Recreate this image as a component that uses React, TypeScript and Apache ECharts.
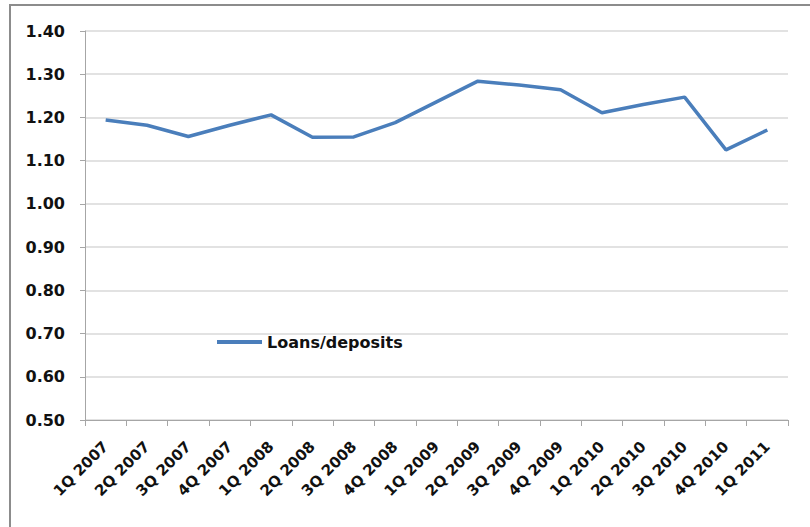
import React, { useEffect, useRef } from "react";
import * as echarts from "echarts";

const categories = [
  "1Q 2007", "2Q 2007", "3Q 2007", "4Q 2007",
  "1Q 2008", "2Q 2008", "3Q 2008", "4Q 2008",
  "1Q 2009", "2Q 2009", "3Q 2009", "4Q 2009",
  "1Q 2010", "2Q 2010", "3Q 2010", "4Q 2010",
  "1Q 2011",
];
const loansDeposits = [
  1.194, 1.182, 1.156, 1.182, 1.206, 1.154, 1.155, 1.188,
  1.236, 1.284, 1.275, 1.264, 1.211, 1.23, 1.247, 1.125, 1.171,
];
const seriesName = "Loans/deposits";

const FONT = "DejaVu Sans";

export default function App() {
  const ref = useRef<HTMLDivElement>(null);
  useEffect(() => {
    if (!ref.current) return;
    const chart = echarts.init(ref.current, undefined, { renderer: "svg" });
    chart.setOption({
      animation: false,
      backgroundColor: "#ffffff",
      graphic: [
        {
          type: "rect",
          shape: { x: 10, y: 5, width: 820, height: 540 },
          style: { fill: "none", stroke: "#8c8c8c", lineWidth: 2 },
          silent: true,
        },
      ],
      grid: { left: 85, right: 22, top: 31, bottom: 107 },
      legend: {
        left: 212,
        top: 329,
        icon: "rect",
        itemWidth: 45,
        itemHeight: 4,
        textStyle: { fontFamily: FONT, fontWeight: "bold", fontSize: 16, color: "#111" },
        data: [seriesName],
      },
      xAxis: {
        type: "category",
        data: categories,
        boundaryGap: true,
        axisLine: { lineStyle: { color: "#a6a6a6", width: 1 } },
        axisTick: { show: true, length: 6, lineStyle: { color: "#a6a6a6" } },
        axisLabel: {
          rotate: 45,
          interval: 0,
          margin: 24,
          fontFamily: FONT,
          fontWeight: "bold",
          fontSize: 15,
          color: "#111",
        },
      },
      yAxis: {
        type: "value",
        min: 0.5,
        max: 1.4,
        interval: 0.1,
        axisLine: { show: true, lineStyle: { color: "#a6a6a6", width: 1 } },
        axisTick: { show: true, length: 5, lineStyle: { color: "#a6a6a6" } },
        splitLine: { lineStyle: { color: "#d9d9d9", width: 1.5 } },
        axisLabel: {
          margin: 20,
          fontFamily: FONT,
          fontWeight: "bold",
          fontSize: 16,
          color: "#111",
          formatter: (v: number) => v.toFixed(2),
        },
      },
      series: [
        {
          name: seriesName,
          type: "line",
          data: loansDeposits,
          showSymbol: false,
          symbol: "none",
          lineStyle: { color: "#4a7ebb", width: 3.5 },
          itemStyle: { color: "#4a7ebb" },
        },
      ],
    });
    return () => chart.dispose();
  }, []);
  return (
    <div
      ref={ref}
      style={{ position: "fixed", left: 0, top: 0, width: 810, height: 527, background: "#fff" }}
    />
  );
}
